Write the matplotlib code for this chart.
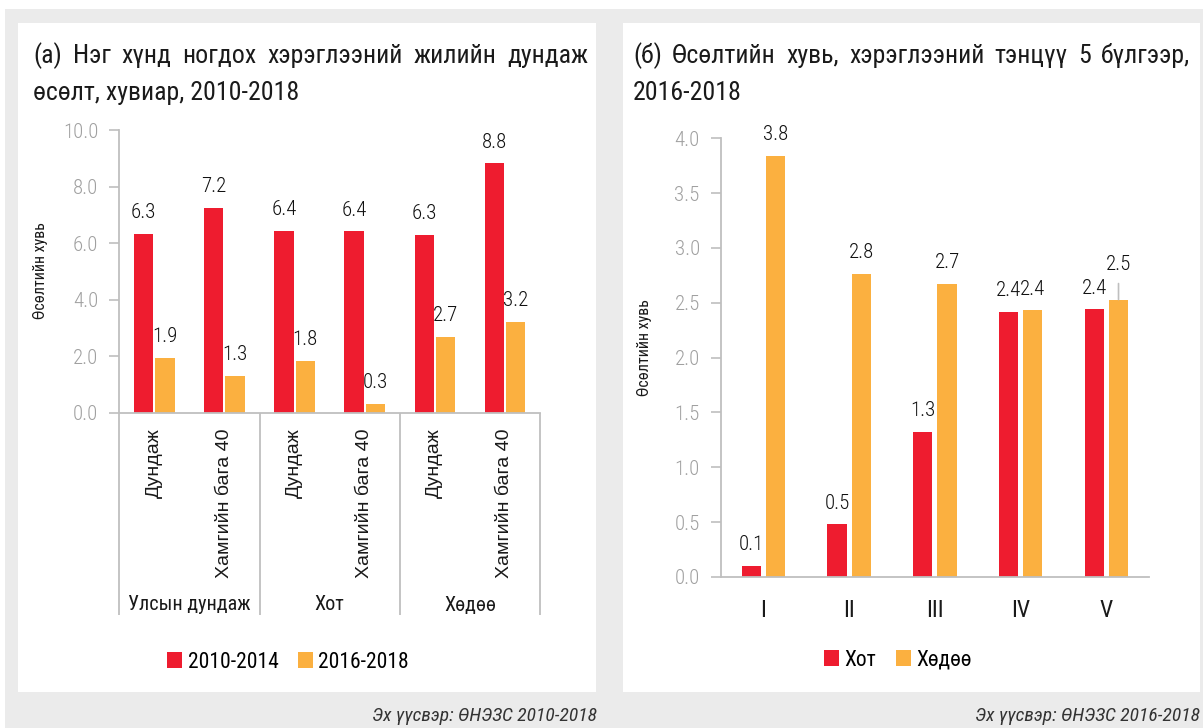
import numpy as np
import matplotlib
matplotlib.use("Agg")
import matplotlib.pyplot as plt
from matplotlib.patches import Rectangle
from matplotlib import font_manager

# ---- data ----
left_cats = ["Дундаж", "Хамгийн бага 40", "Дундаж", "Хамгийн бага 40", "Дундаж", "Хамгийн бага 40"]
left_groups = ["Улсын дундаж", "Хот", "Хөдөө"]
left_2010_2014 = [6.34, 7.24, 6.43, 6.42, 6.29, 8.82]
left_2016_2018 = [1.95, 1.32, 1.84, 0.33, 2.68, 3.22]
left_series = ["2010-2014", "2016-2018"]

right_cats = ["I", "II", "III", "IV", "V"]
right_khot = [0.10, 0.48, 1.32, 2.42, 2.44]
right_khudoo = [3.84, 2.76, 2.67, 2.43, 2.53]
right_series = ["Хот", "Хөдөө"]

title_a = ["(а) Нэг хүнд ногдох хэрэглээний жилийн дундаж", "өсөлт, хувиар, 2010-2018"]
title_b = ["(б) Өсөлтийн хувь, хэрэглээний тэнцүү 5 бүлгээр,", "2016-2018"]
ylabel = "Өсөлтийн хувь"
source_a = "Эх үүсвэр: ӨНЭЗС 2010-2018"
source_b = "Эх үүсвэр: ӨНЭЗС 2016-2018"

RED = "#EE1C2F"
ORANGE = "#FBB040"
GRID = "#BFBFBF"
TICKC = "#A0A0A0"
BG = "#EBEBEB"

# condensed font if we have one
fonts = font_manager.fontManager.ttflist
names = {f.name for f in fonts}
stretch = "normal"
NARROW = None
for cand in ["Roboto Condensed", "Liberation Sans Narrow", "Open Sans Condensed",
             "Noto Sans Condensed", "Noto Sans Display Condensed"]:
    if cand in names:
        NARROW = cand
        break
if NARROW is None:
    dv = [f for f in fonts if f.name == "DejaVu Sans" and "ondensed" in str(f.stretch)]
    if dv:
        NARROW = "DejaVu Sans"
        stretch = "condensed"
    else:
        NARROW = "Roboto"
k = 1.0 if stretch == "condensed" or NARROW != "Roboto" else 0.86

plt.rcParams["font.family"] = [NARROW, "DejaVu Sans"]
plt.rcParams["font.stretch"] = stretch
ARIAL = ["Liberation Sans", "DejaVu Sans"]

W, H = 1203, 728
fig = plt.figure(figsize=(W / 100, H / 100), dpi=100)
fig.patch.set_facecolor("white")


def fx(x):
    return x / W


def fy(y):
    return 1 - y / H


# background + panels
fig.add_artist(Rectangle((fx(5), 0), fx(1203 - 5), 1 - 9 / H, transform=fig.transFigure,
                         facecolor=BG, edgecolor="none", zorder=-3))
for x0, x1 in [(18, 596), (623, 1200)]:
    fig.add_artist(Rectangle((fx(x0), fy(692)), fx(x1 - x0), (692 - 23) / H,
                             transform=fig.transFigure, facecolor="white",
                             edgecolor="none", zorder=-2))


def justify(words_line, x0, x1, y, size):
    words = words_line.split(" ")
    r = fig.canvas.get_renderer()
    txts = [fig.text(fx(x0), fy(y), w, fontsize=size, color="#1A1A1A", va="baseline")
            for w in words]
    widths = [t.get_window_extent(r).width for t in txts]
    gap = max((x1 - x0 - sum(widths)) / (len(words) - 1), 5)
    x = x0
    for t, w in zip(txts, widths):
        t.set_x(fx(x))
        x += w + gap


def style_axis(ax):
    for s in ["top", "right"]:
        ax.spines[s].set_visible(False)
    for s in ["left", "bottom"]:
        ax.spines[s].set_color(GRID)
        ax.spines[s].set_linewidth(1.3)
    ax.tick_params(axis="y", direction="out", length=7, width=1.2, color=GRID,
                   labelcolor=TICKC, labelsize=15 * k, pad=8)
    for t in ax.get_yticklabels():
        t.set_fontweight("light")
    ax.set_facecolor("none")


def label_bars(ax, xs, vals, pad=8.5, special=None):
    for i, (x, v) in enumerate(zip(xs, vals)):
        kw = dict(textcoords="offset points", ha="center", va="bottom", fontsize=15 * k,
                  fontweight="light", color="#111111")
        if special is not None and i == special:
            ax.annotate(f"{v:.1f}", xy=(x, v), xytext=(0, pad + 10),
                        arrowprops=dict(arrowstyle="-", color=GRID, lw=1.2, shrinkA=5, shrinkB=0),
                        **kw)
        else:
            ax.annotate(f"{v:.1f}", xy=(x, v), xytext=(0, pad), **kw)


leg_kw = dict(loc="center", bbox_transform=fig.transFigure, ncol=2, frameon=False,
              fontsize=15.5 * k, handlelength=0.7, handleheight=0.7,
              handletextpad=0.25, columnspacing=0.9)

# ---- left chart ----
ax1 = fig.add_axes([fx(119.3), fy(413), (540 - 119.3) / W, (413 - 130) / H])
x = np.arange(len(left_cats))
bw, off = 0.275, 0.152
ax1.bar(x - off, left_2010_2014, bw, color=RED, label=left_series[0])
ax1.bar(x + off, left_2016_2018, bw, color=ORANGE, label=left_series[1])
label_bars(ax1, x - off, left_2010_2014)
label_bars(ax1, x + off, left_2016_2018)
ax1.set_ylim(0, 10)
ax1.set_xlim(-0.5, len(left_cats) - 0.5)
ax1.set_yticks(np.arange(0, 10.1, 2))
ax1.yaxis.set_major_formatter(matplotlib.ticker.FormatStrFormatter("%.1f"))
style_axis(ax1)
ax1.set_xticks(x)
ax1.set_xticklabels(left_cats, rotation=90, va="top", ha="center", fontsize=14,
                    family=ARIAL, fontstretch="normal", color="#1A1A1A")
ax1.tick_params(axis="x", length=0, pad=11)
trans = ax1.get_xaxis_transform()
sep_bottom = -(615 - 413) / (413 - 130)
ax1.vlines([-0.5, 1.5, 3.5, 5.5], sep_bottom, 0, transform=trans, color=GRID, lw=1.3,
           clip_on=False)
grp_y = -(605 - 413) / (413 - 130)
for i, g in enumerate(left_groups):
    ax1.text(2 * i + 0.5, grp_y, g, transform=trans, ha="center", va="center",
             fontsize=14.5 * k, color="#1A1A1A")
ax1.legend(bbox_to_anchor=(fx(288), fy(662)), **leg_kw)

# ---- right chart ----
ax2 = fig.add_axes([fx(720.7), fy(577), (1149.2 - 720.7) / W, (577 - 138.3) / H])
xr = np.arange(len(right_cats))
bw2, off2 = 0.225, 0.142
ax2.bar(xr - off2, right_khot, bw2, color=RED, label=right_series[0])
ax2.bar(xr + off2, right_khudoo, bw2, color=ORANGE, label=right_series[1])
label_bars(ax2, xr - off2, right_khot)
label_bars(ax2, xr + off2, right_khudoo, special=4)
ax2.set_ylim(0, 4)
ax2.set_xlim(-0.5, len(right_cats) - 0.5)
ax2.set_yticks(np.arange(0, 4.01, 0.5))
ax2.yaxis.set_major_formatter(matplotlib.ticker.FormatStrFormatter("%.1f"))
style_axis(ax2)
ax2.set_xticks(xr)
ax2.set_xticklabels(right_cats, fontsize=17 * k, color="#1A1A1A")
ax2.tick_params(axis="x", length=0, pad=16)
ax2.legend(bbox_to_anchor=(fx(898), fy(660)), **leg_kw)

# ---- titles, labels, sources ----
tsize = 18.6 * k
justify(title_a[0], 33, 588, 63, tsize)
fig.text(fx(33), fy(100), title_a[1], fontsize=tsize, color="#1A1A1A", va="baseline")
justify(title_b[0], 633, 1190, 63, tsize)
fig.text(fx(633), fy(100), title_b[1], fontsize=tsize, color="#1A1A1A", va="baseline")

fig.text(fx(40), fy(271), ylabel, rotation=90, ha="center", va="center", fontsize=11.5 * k,
         color="#1A1A1A")
fig.text(fx(645), fy(348), ylabel, rotation=90, ha="center", va="center", fontsize=11.5 * k,
         color="#1A1A1A")

fig.text(fx(597), fy(716), source_a, ha="right", va="center", fontsize=14 * k,
         style="italic", color="#333333")
fig.text(fx(1200), fy(716), source_b, ha="right", va="center", fontsize=14 * k,
         style="italic", color="#333333")

fig.savefig("out.png", dpi=100, facecolor=fig.get_facecolor())
